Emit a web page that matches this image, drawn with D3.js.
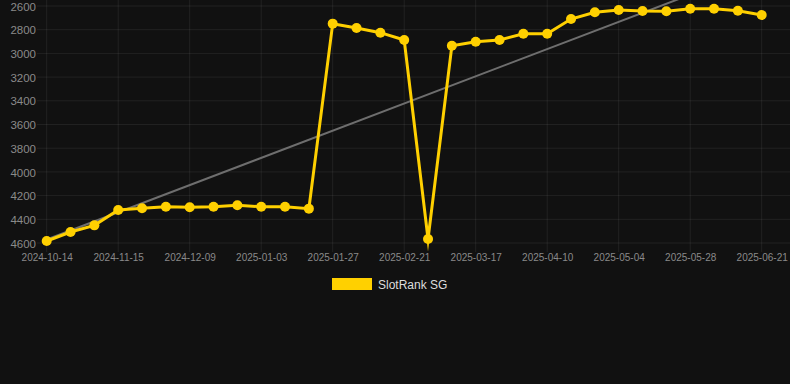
<!DOCTYPE html>
<html><head><meta charset="utf-8">
<script src="https://cdn.jsdelivr.net/npm/d3@7"></script>
<style>
html,body{margin:0;padding:0;background:#111111;}
svg{display:block;}
</style></head>
<body>
<svg id="c" width="790" height="384"></svg>
<script>
const categories = ["2024-10-14","2024-10-22","2024-11-07","2024-11-15","2024-11-23","2024-12-01","2024-12-09","2024-12-17","2024-12-26","2025-01-03","2025-01-11","2025-01-19","2025-01-27","2025-02-04","2025-02-13","2025-02-21","2025-03-01","2025-03-09","2025-03-17","2025-03-25","2025-04-02","2025-04-10","2025-04-18","2025-04-26","2025-05-04","2025-05-12","2025-05-20","2025-05-28","2025-06-05","2025-06-13","2025-06-21"];
const rankValues = [4583,4507,4451,4321,4307,4294,4299,4294,4282,4294,4294,4310,2749,2786,2825,2887,4566,2935,2901,2887,2834,2834,2710,2653,2634,2642,2645,2623,2623,2640,2676];
const trendValues = [4570,2275];
const yTicks = [2600,2800,3000,3200,3400,3600,3800,4000,4200,4400,4600];
const seriesName = "SlotRank SG";

(function(){
const svg = d3.select("#c");
const L = 46.7, R = 761.7, T = 6, B = 243;
const x = d3.scalePoint().domain(categories).range([L, R]);
const y = d3.scaleLinear().domain([2600, 4600]).range([T, B]);
const gridColor = "rgba(255,255,255,0.07)";
const font = "Arial, 'Liberation Sans', sans-serif";

// horizontal grid
svg.append("g").selectAll("line").data(yTicks).enter().append("line")
  .attr("x1", 37).attr("x2", 790)
  .attr("y1", d => y(d)).attr("y2", d => y(d))
  .attr("stroke", gridColor).attr("stroke-width", 1);
const yAxis = d3.axisLeft(y).tickValues(yTicks).tickFormat(d3.format("d")).tickSize(0).tickPadding(0);
const ya = svg.append("g").attr("transform", "translate(36,0)").call(yAxis);
ya.select(".domain").remove();
ya.selectAll("text").attr("fill", "#8a8a8a").attr("font-family", font)
  .attr("font-size", 11.5).attr("dy", "0.36em");

// vertical grid + x labels (every 3rd category)
const shown = categories.filter((d, i) => i % 3 === 0);
svg.append("g").selectAll("line").data(shown).enter().append("line")
  .attr("x1", d => x(d)).attr("x2", d => x(d))
  .attr("y1", 0).attr("y2", 252)
  .attr("stroke", gridColor).attr("stroke-width", 1);
const xAxis = d3.axisBottom(x).tickValues(shown).tickSize(0).tickPadding(0);
const xa = svg.append("g").attr("transform", "translate(0,254)").call(xAxis);
xa.select(".domain").remove();
xa.selectAll("text").attr("fill", "#8a8a8a").attr("font-family", font)
  .attr("font-size", 10).attr("dy", "0.71em");

// trend line
svg.append("line")
  .attr("x1", x(categories[0])).attr("y1", y(trendValues[0]))
  .attr("x2", x(categories[categories.length - 1])).attr("y2", y(trendValues[1]))
  .attr("stroke", "#6e6e6e").attr("stroke-width", 2);

// series line
const line = d3.line().x((d, i) => x(categories[i])).y(d => y(d));
svg.append("path").datum(rankValues).attr("d", line)
  .attr("fill", "none").attr("stroke", "#FFD000").attr("stroke-width", 3)
  .attr("stroke-linejoin", "miter").attr("stroke-miterlimit", 10);
svg.append("g").selectAll("circle").data(rankValues).enter().append("circle")
  .attr("cx", (d, i) => x(categories[i])).attr("cy", d => y(d)).attr("r", 5)
  .attr("fill", "#FFD000");

// legend
const lg = svg.append("g");
lg.append("rect").attr("x", 332).attr("y", 278).attr("width", 40).attr("height", 12).attr("fill", "#FFD000");
lg.append("text").attr("x", 378).attr("y", 289).text(seriesName)
  .attr("fill", "#dddddd").attr("font-family", font).attr("font-size", 12);
})();
</script>
</body></html>
